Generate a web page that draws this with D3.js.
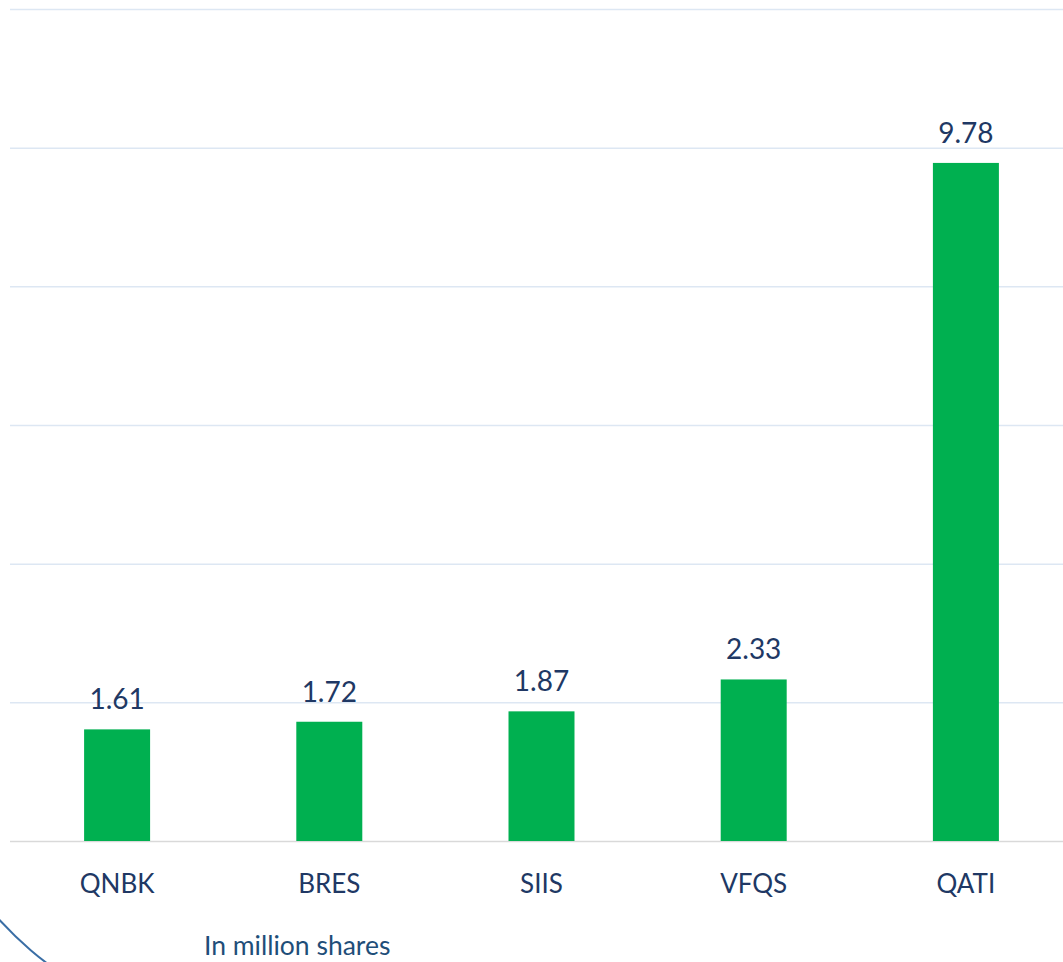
<!DOCTYPE html>
<html>
<head>
<meta charset="utf-8">
<script src="https://cdn.jsdelivr.net/npm/d3@7"></script>
<style>
  html, body { margin: 0; padding: 0; background: #ffffff; }
  svg { display: block; }
</style>
</head>
<body>
<svg id="chart" width="1063" height="962"></svg>
<script>
const categories = ["QNBK", "BRES", "SIIS", "VFQS", "QATI"];
const values = [1.61, 1.72, 1.87, 2.33, 9.78];
const valueLabels = ["1.61", "1.72", "1.87", "2.33", "9.78"];
const yTicks = [0, 2, 4, 6, 8, 10, 12];
const unitNote = "In million shares";

const svg = d3.select("#chart");
const textColor = "#203864";

const x = d3.scaleBand()
  .domain(categories)
  .range([11, 1072])
  .paddingInner(0.689)
  .paddingOuter(0.3445);

const y = d3.scaleLinear().domain([0, 12]).range([841, 9]);

// gridlines
svg.append("g").selectAll("line")
  .data(yTicks.filter(d => d !== 0))
  .join("line")
  .attr("x1", 10).attr("x2", 1063)
  .attr("y1", d => y(d) + 0.5).attr("y2", d => y(d) + 0.5)
  .attr("stroke", "#dde7f3").attr("stroke-width", 1.5);

// baseline
svg.append("line")
  .attr("x1", 10).attr("x2", 1063)
  .attr("y1", y(0) + 0.5).attr("y2", y(0) + 0.5)
  .attr("stroke", "#d9d9d9").attr("stroke-width", 1.5);

// bars
svg.append("g").selectAll("rect")
  .data(values)
  .join("rect")
  .attr("x", (d, i) => x(categories[i]))
  .attr("y", d => y(d))
  .attr("width", x.bandwidth())
  .attr("height", d => y(0) - y(d))
  .attr("fill", "#00b050");

// value labels
svg.append("g").selectAll("text")
  .data(values)
  .join("text")
  .attr("x", (d, i) => x(categories[i]) + x.bandwidth() / 2)
  .attr("y", d => y(d) - 20)
  .attr("text-anchor", "middle")
  .attr("font-family", "Lato, 'Open Sans', sans-serif")
  .attr("font-size", 28)
  .attr("fill", textColor)
  .text((d, i) => valueLabels[i]);

// category labels
svg.append("g").selectAll("text")
  .data(categories)
  .join("text")
  .attr("x", d => x(d) + x.bandwidth() / 2)
  .attr("y", 893)
  .attr("text-anchor", "middle")
  .attr("font-family", "Lato, 'Open Sans', sans-serif")
  .attr("font-size", 26)
  .attr("fill", textColor)
  .text(d => d);

// unit note
svg.append("text")
  .attr("x", 204)
  .attr("y", 955)
  .attr("font-family", "Lato, 'Open Sans', sans-serif")
  .attr("font-size", 26.5)
  .attr("fill", "#1f4e79")
  .text(unitNote);

// decorative arc
const p = d3.path();
p.arc(0, 0, 350, Math.PI * 0.55, Math.PI * 0.9);
svg.append("path")
  .attr("transform", "translate(258,684)")
  .attr("d", p.toString())
  .attr("fill", "none")
  .attr("stroke", "#3a6ea5")
  .attr("stroke-width", 2);
</script>
</body>
</html>
